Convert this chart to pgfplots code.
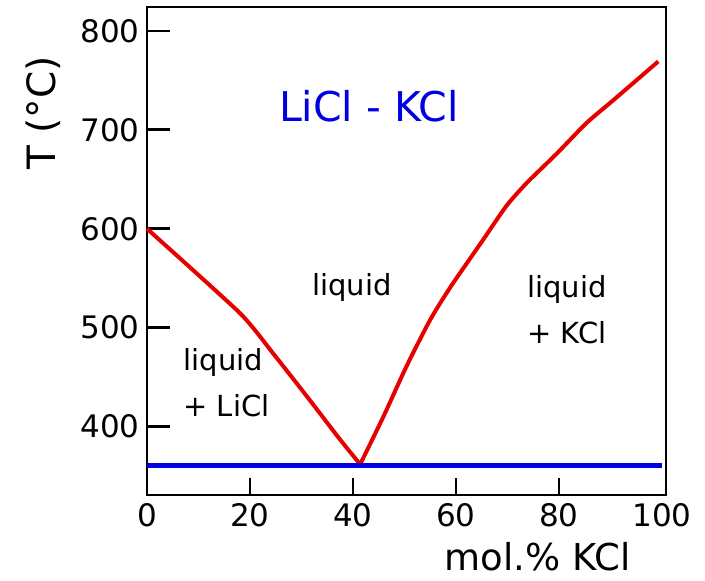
\documentclass[border=0pt]{standalone}
\usepackage{fontspec}
\setmainfont{DejaVu Sans}
\usepackage{pgfplots}
\pgfplotsset{compat=1.18}
\definecolor{cred}{RGB}{230,0,0}
\definecolor{cblue}{RGB}{0,0,225}
\begin{document}
\begin{tikzpicture}
\begin{axis}[
  scale only axis,
  width=519pt, height=488pt,
  xmin=0, xmax=100.8, ymin=331, ymax=824,
  axis line style={line width=2.5pt},
  xtick={20,40,60,80}, ytick=\empty,
  extra x ticks={0,100}, extra x tick style={major tick length=0pt},
  extra y ticks={400,500,600,700,800}, extra y tick style={major tick length=23pt},
  major tick length=17pt,
  tick align=inside, xtick pos=bottom, ytick pos=left,
  tick style={line width=2.5pt, black},
  /pgf/number format/assume math mode=true,
  ticklabel style={font=\fontsize{31}{34}\selectfont},
  xticklabel style={yshift=-5pt},
  yticklabel style={xshift=-4pt},
  xlabel={mol.\% KCl},
  ylabel={T (°C)},
  xlabel style={font=\fontsize{37}{40}\selectfont, at={(rel axis cs:0.753,0)}, anchor=base, inner sep=0pt, yshift=-76pt},
  ylabel style={font=\fontsize{39}{40}\selectfont, at={(rel axis cs:0,0.783)}, anchor=center, yshift=104pt},
  clip=false,
]
\addplot[cred, line width=4pt, smooth, tension=0.35] coordinates {
 (0,600) (18,515) (24.5,474) (31,431) (37.5,387) (41.4,362)
};
\addplot[cred, line width=4pt, smooth, tension=0.4] coordinates {
 (41.4,362) (45.9,410) (50.4,461) (55,508) (58.8,540) (62.1,565) (65.3,589)
 (69.8,623) (73.7,646) (79.6,676) (85.4,707) (90.6,730) (99.3,769)
};
\addplot[cblue, line width=4.5pt] coordinates {(0,361) (100,361)};
\node[cblue, font=\fontsize{41}{44}\selectfont, anchor=base] at (axis cs:43.1,708) {LiCl - KCl};
\node[font=\fontsize{29}{46}\selectfont, anchor=center] at (axis cs:39.8,541) {liquid};
\node[font=\fontsize{29}{46}\selectfont, align=left, anchor=west] at (axis cs:73.2,518) {liquid\\+ KCl};
\node[font=\fontsize{29}{46}\selectfont, align=left, anchor=west] at (axis cs:6.4,444) {liquid\\+ LiCl};
\end{axis}
\pgfresetboundingbox
\path ([shift={(-147pt,-86pt)}]current axis.south west) rectangle ([shift={(39pt,7pt)}]current axis.north east);
\end{tikzpicture}
\end{document}
